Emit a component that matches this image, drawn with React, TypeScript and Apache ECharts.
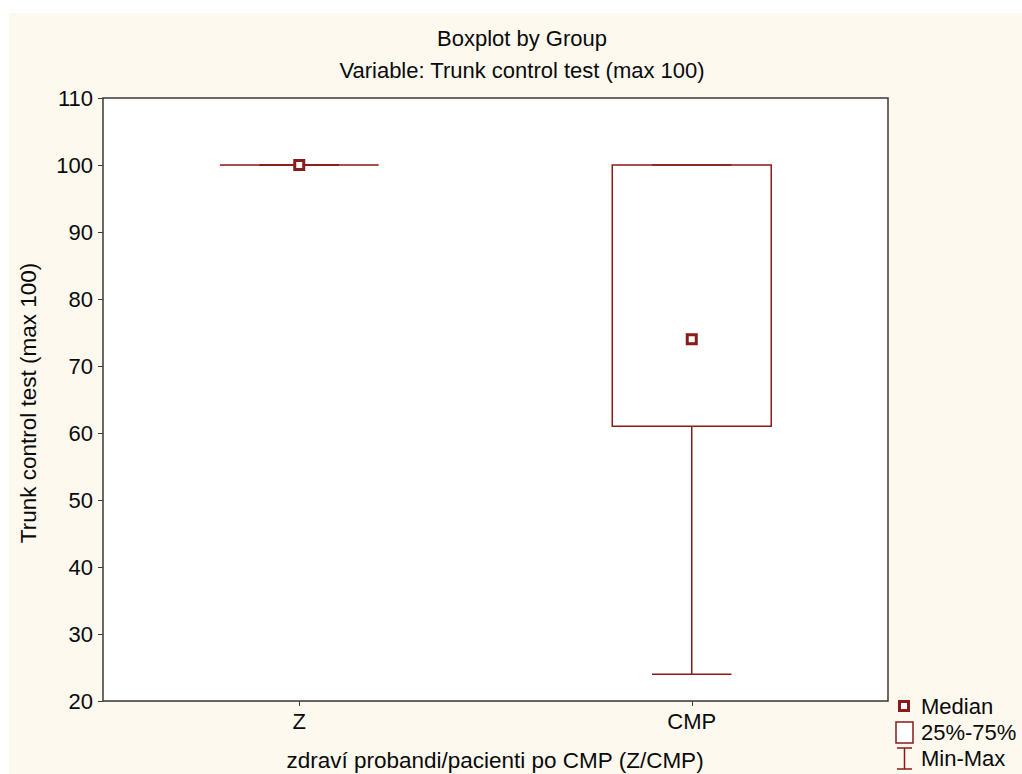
import React, { useEffect, useRef } from "react";
import * as echarts from "echarts";

const categories = ["Z", "CMP"];
const minValues = [100, 24];
const q1Values = [100, 61];
const medianValues = [100, 74];
const q3Values = [100, 100];
const maxValues = [100, 100];
const yTicks = { min: 20, max: 110, interval: 10 };

const titleText = "Boxplot by Group";
const subtitleText = "Variable: Trunk control test (max 100)";
const yName = "Trunk control test (max 100)";
const xName = "zdraví probandi/pacienti po CMP (Z/CMP)";
const legendLabels = ["Median", "25%-75%", "Min-Max"];

const RED = "#8b1a1a";
const FONT = "Liberation Sans, Arial, sans-serif";
const TXT = "#0a0a0a";

export default function App() {
  const ref = useRef<HTMLDivElement>(null);
  useEffect(() => {
    if (!ref.current) return;
    const chart = echarts.init(ref.current, undefined, { renderer: "svg" });
    const data = categories.map((_, i) => [
      i,
      minValues[i],
      q1Values[i],
      medianValues[i],
      q3Values[i],
      maxValues[i],
    ]);
    const option: any = {
      animation: false,
      backgroundColor: "#ffffff",
      textStyle: { fontFamily: FONT },
      grid: {
        left: 103,
        top: 98,
        width: 785,
        height: 603,
        show: true,
        backgroundColor: "#ffffff",
        borderColor: "#3a3a3a",
        borderWidth: 1.5,
        z: 1,
      },
      xAxis: [
        {
          type: "category",
          data: categories,
          position: "bottom",
          boundaryGap: true,
          axisLine: { show: false },
          axisTick: {
            show: true,
            alignWithLabel: true,
            length: 5,
            lineStyle: { color: "#3a3a3a", width: 1 },
          },
          axisLabel: {
            fontSize: 22,
            color: TXT,
            margin: 9,
            fontFamily: FONT,
          },
          splitLine: { show: false },
        },
        {
          type: "category",
          data: categories,
          position: "top",
          boundaryGap: true,
          axisLine: { show: false },
          axisTick: {
            show: true,
            inside: true,
            alignWithLabel: true,
            length: 5,
            lineStyle: { color: "#3a3a3a", width: 1 },
          },
          axisLabel: { show: false },
          splitLine: { show: false },
        },
      ],
      yAxis: {
        type: "value",
        min: yTicks.min,
        max: yTicks.max,
        interval: yTicks.interval,
        axisLine: { show: false },
        axisTick: {
          show: true,
          length: 5,
          lineStyle: { color: "#3a3a3a", width: 1 },
        },
        axisLabel: {
          fontSize: 22,
          color: TXT,
          margin: 10,
          fontFamily: FONT,
        },
        splitLine: { show: true, lineStyle: { color: "#dedede", width: 1 } },
      },
      series: [
        {
          type: "custom",
          data,
          z: 5,
          renderItem: (params: any, api: any) => {
            const idx = api.value(0);
            const pMin = api.coord([idx, api.value(1)]);
            const pQ1 = api.coord([idx, api.value(2)]);
            const pMed = api.coord([idx, api.value(3)]);
            const pQ3 = api.coord([idx, api.value(4)]);
            const pMax = api.coord([idx, api.value(5)]);
            const bw = api.size([1, 0])[0] * 0.405;
            const cw = bw / 2;
            const x = pMed[0];
            const ls = { stroke: RED, lineWidth: 1.5, fill: "none" };
            return {
              type: "group",
              children: [
                {
                  type: "line",
                  shape: { x1: x, y1: pQ1[1], x2: x, y2: pMin[1] },
                  style: ls,
                },
                {
                  type: "line",
                  shape: { x1: x, y1: pQ3[1], x2: x, y2: pMax[1] },
                  style: ls,
                },
                {
                  type: "line",
                  shape: { x1: x - cw / 2, y1: pMin[1], x2: x + cw / 2, y2: pMin[1] },
                  style: ls,
                },
                {
                  type: "line",
                  shape: { x1: x - cw / 2, y1: pMax[1], x2: x + cw / 2, y2: pMax[1] },
                  style: ls,
                },
                {
                  type: "rect",
                  shape: { x: x - bw / 2, y: pQ3[1], width: bw, height: pQ1[1] - pQ3[1] },
                  style: { stroke: RED, lineWidth: 1.5, fill: "rgba(0,0,0,0)" },
                },
                {
                  type: "rect",
                  shape: { x: x - 4.5, y: pMed[1] - 4.5, width: 9, height: 9 },
                  style: { stroke: RED, lineWidth: 3, fill: "#ffffff" },
                },
              ],
            };
          },
        },
      ],
      graphic: [
        {
          type: "rect",
          z: -10,
          silent: true,
          shape: { x: 9, y: 13, width: 1013, height: 761 },
          style: { fill: "#fdf9ef" },
        },
        {
          type: "text",
          x: 522,
          y: 38,
          style: {
            text: titleText,
            fontSize: 22,
            fontFamily: FONT,
            fill: TXT,
            textAlign: "center",
            textVerticalAlign: "middle",
          },
        },
        {
          type: "text",
          x: 522,
          y: 70,
          style: {
            text: subtitleText,
            fontSize: 22,
            fontFamily: FONT,
            fill: TXT,
            textAlign: "center",
            textVerticalAlign: "middle",
          },
        },
        {
          type: "text",
          x: 28,
          y: 403,
          rotation: Math.PI / 2,
          style: {
            text: yName,
            fontSize: 22.5,
            fontFamily: FONT,
            fill: TXT,
            textAlign: "center",
            textVerticalAlign: "middle",
          },
        },
        {
          type: "text",
          x: 495,
          y: 760,
          style: {
            text: xName,
            fontSize: 22.5,
            fontFamily: FONT,
            fill: TXT,
            textAlign: "center",
            textVerticalAlign: "middle",
          },
        },
        // legend: median marker
        {
          type: "rect",
          shape: { x: 899.5, y: 701.5, width: 9, height: 9 },
          style: { stroke: RED, lineWidth: 3, fill: "#ffffff" },
        },
        {
          type: "text",
          x: 921,
          y: 706,
          style: {
            text: legendLabels[0],
            fontSize: 22,
            fontFamily: FONT,
            fill: TXT,
            textVerticalAlign: "middle",
          },
        },
        // legend: box
        {
          type: "rect",
          shape: { x: 896, y: 722, width: 17, height: 21 },
          style: { stroke: RED, lineWidth: 1.5, fill: "#ffffff" },
        },
        {
          type: "text",
          x: 921,
          y: 732,
          style: {
            text: legendLabels[1],
            fontSize: 22,
            fontFamily: FONT,
            fill: TXT,
            textVerticalAlign: "middle",
          },
        },
        // legend: whisker
        {
          type: "line",
          shape: { x1: 897, y1: 748, x2: 912, y2: 748 },
          style: { stroke: RED, lineWidth: 1.5 },
        },
        {
          type: "line",
          shape: { x1: 904.5, y1: 748, x2: 904.5, y2: 769 },
          style: { stroke: RED, lineWidth: 1.5 },
        },
        {
          type: "line",
          shape: { x1: 897, y1: 769, x2: 912, y2: 769 },
          style: { stroke: RED, lineWidth: 1.5 },
        },
        {
          type: "text",
          x: 921,
          y: 758,
          style: {
            text: legendLabels[2],
            fontSize: 22,
            fontFamily: FONT,
            fill: TXT,
            textVerticalAlign: "middle",
          },
        },
      ],
    };
    chart.setOption(option);
    return () => chart.dispose();
  }, []);
  return (
    <div
      ref={ref}
      style={{ position: "absolute", left: 0, top: 0, width: 1022, height: 774 }}
    />
  );
}
